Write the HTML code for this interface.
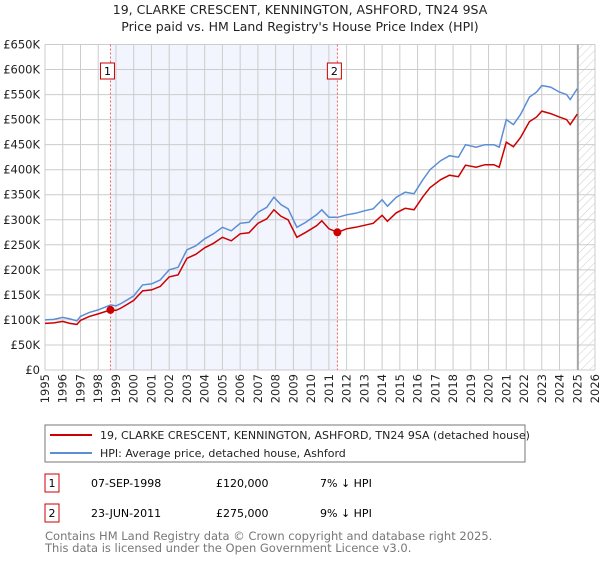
<!DOCTYPE html>
<html><head><meta charset="utf-8"><style>
body{margin:0;background:#fff;font-family:"Liberation Sans","DejaVu Sans",sans-serif;}
svg text{font-family:"DejaVu Sans","Liberation Sans",sans-serif;}
</style></head><body>
<svg id="chart" width="600" height="560" viewBox="0 0 600 560" xmlns="http://www.w3.org/2000/svg">
<defs><pattern id="hatch" width="6" height="6" patternUnits="userSpaceOnUse" patternTransform="rotate(45)"><line x1="0" y1="0" x2="0" y2="6" stroke="#ccc" stroke-width="1"/></pattern></defs>
<text x="300" y="14" text-anchor="middle" font-size="12.5" fill="#222">19, CLARKE CRESCENT, KENNINGTON, ASHFORD, TN24 9SA</text>
<text x="300" y="31" text-anchor="middle" font-size="12.5" fill="#222">Price paid vs. HM Land Registry's House Price Index (HPI)</text>
<g id="grid"></g><g id="series"></g>
<rect x="45" y="425" width="480" height="37" fill="#fff" stroke="#777"/>
<line x1="50" y1="435" x2="92" y2="435" stroke="#cc0000" stroke-width="2"/>
<text x="100" y="439" font-size="11" fill="#222">19, CLARKE CRESCENT, KENNINGTON, ASHFORD, TN24 9SA (detached house)</text>
<line x1="50" y1="453" x2="92" y2="453" stroke="#5b8ed6" stroke-width="2"/>
<text x="100" y="457" font-size="11" fill="#222">HPI: Average price, detached house, Ashford</text>
<g>
<rect x="45" y="474" width="14" height="18" fill="#fff" stroke="#cc0000"/><text x="52" y="487" text-anchor="middle" font-size="11">1</text>
<text x="91" y="487" font-size="11">07-SEP-1998</text><text x="216" y="487" font-size="11">£120,000</text><text x="320" y="487" font-size="11">7% ↓ HPI</text></g>
<g>
<rect x="45" y="504" width="14" height="18" fill="#fff" stroke="#cc0000"/><text x="52" y="517" text-anchor="middle" font-size="11">2</text>
<text x="91" y="517" font-size="11">23-JUN-2011</text><text x="216" y="517" font-size="11">£275,000</text><text x="320" y="517" font-size="11">9% ↓ HPI</text></g>
<text x="45" y="540" font-size="11.5" fill="#777">Contains HM Land Registry data © Crown copyright and database right 2025.</text>
<text x="45" y="552" font-size="11.5" fill="#777">This data is licensed under the Open Government Licence v3.0.</text>
</svg>
<script>
const dates=[1995,1995.5,1996,1996.4,1996.8,1997,1997.5,1998,1998.7,1999,1999.3,2000,2000.5,2001,2001.5,2002,2002.5,2003,2003.5,2004,2004.5,2005,2005.5,2006,2006.5,2007,2007.5,2007.9,2008.3,2008.7,2009.2,2009.7,2010.3,2010.6,2011,2011.5,2012,2012.5,2013,2013.5,2014,2014.3,2014.8,2015.3,2015.8,2016.3,2016.7,2017.3,2017.8,2018.3,2018.7,2019.3,2019.8,2020.3,2020.6,2021,2021.4,2021.8,2022.3,2022.7,2023,2023.5,2024,2024.4,2024.6,2025];
const hpi=[100,101,105,102,98,107,115,120,130,128,133,148,170,172,180,200,205,240,248,262,272,285,278,293,295,315,325,345,330,322,285,295,310,320,305,305,310,313,318,322,340,327,345,355,352,380,400,418,428,425,450,445,450,450,445,500,490,510,545,555,568,565,555,550,540,562];
const paid=[93,94,97,93,91,99,107,112,120,119,124,139,158,160,167,186,190,223,231,244,253,265,258,272,274,293,302,320,307,300,265,275,288,298,282,275,282,285,289,293,309,297,314,323,320,346,364,380,389,386,409,405,410,410,405,455,446,464,496,505,517,512,505,500,490,511];
const sales=[[1998.69,120],[2011.48,275]];
const yTicks=[0,50,100,150,200,250,300,350,400,450,500,550,600,650];
const xTicks=[];for(let y=1995;y<=2026;y++)xTicks.push(y);
const X0=45,X1=595,Y0=370,Y1=44.5;
const sx=d=>X0+(d-1995)/31*(X1-X0), sy=v=>Y0-v/650*(Y0-Y1);
const NS='http://www.w3.org/2000/svg';
function mk(t,a,p){const e=document.createElementNS(NS,t);for(const k in a)e.setAttribute(k,a[k]);p.appendChild(e);return e;}
const g=document.getElementById('grid'), s=document.getElementById('series');
const shade=mk('rect',{x:sx(sales[0][0]),y:Y1,width:sx(sales[1][0])-sx(sales[0][0]),height:Y0-Y1,fill:'#f2f5fd'},g);


const hat=mk('rect',{x:sx(2025.04),y:Y1,width:X1-sx(2025.04),height:Y0-Y1,fill:'url(#hatch)'},g);


yTicks.forEach(v=>{mk('line',{x1:X0,x2:X1,y1:sy(v),y2:sy(v),stroke:'#ccc'},g);
const t=mk('text',{x:40,y:sy(v)+4,'text-anchor':'end','font-size':11.5,fill:'#222'},g);t.textContent=v?'£'+v+'K':'£0';

});
xTicks.forEach(y=>{mk('line',{x1:sx(y),x2:sx(y),y1:Y1,y2:Y0,stroke:'#ccc'},g);
const t=mk('text',{transform:`translate(${sx(y)+4},374) rotate(-90)`,'text-anchor':'end','font-size':11.5,fill:'#222'},g);t.textContent=y;

});
mk('line',{x1:sx(2025.04),x2:sx(2025.04),y1:Y1,y2:Y0,stroke:'#999','stroke-width':1.5},g);
const pts=a=>dates.map((d,i)=>sx(d).toFixed(1)+','+sy(a[i]).toFixed(1)).join(' ');
const lh=mk('polyline',{points:pts(hpi),fill:'none',stroke:'#5b8ed6','stroke-width':1.5},s);


const lp=mk('polyline',{points:pts(paid),fill:'none',stroke:'#cc0000','stroke-width':1.5},s);


sales.forEach((sv,i)=>{const x=sx(sv[0]);
mk('line',{x1:x,x2:x,y1:Y1,y2:Y0,stroke:'#f06060','stroke-dasharray':'2,2'},s);
const m=mk('circle',{cx:x,cy:sy(sv[1]),r:4,fill:'#cc0000'},s);


const b=mk('rect',{x:x-10,y:63,width:14,height:16,fill:'#fff',stroke:'#cc0000'},s);


const t=mk('text',{x:x-3,y:75,'text-anchor':'middle','font-size':11},s);t.textContent=i+1;});
</script>
</body></html>
